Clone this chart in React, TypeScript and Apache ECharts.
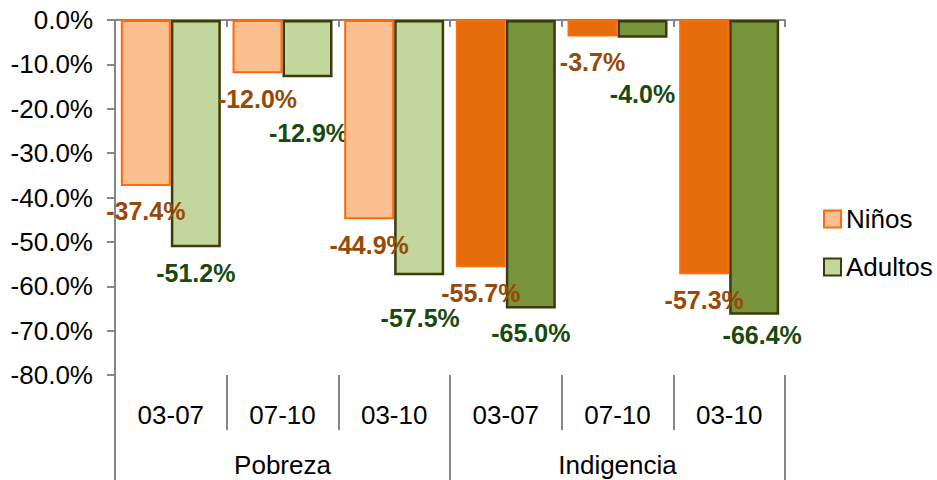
import React, { useEffect, useRef } from "react";
import * as echarts from "echarts";

const categories = ["03-07", "07-10", "03-10", "03-07", "07-10", "03-10"];
const groups = ["Pobreza", "Indigencia"];
const ninos = [-37.4, -12.0, -44.9, -55.7, -3.7, -57.3];
const adultos = [-51.2, -12.9, -57.5, -65.0, -4.0, -66.4];
const yTicks = { min: -80, max: 0, interval: 10 };

// label layout tweaks (as placed manually in the reference)
const adultosLabelOffsets = [[0, 0], [1, 30], [1, 17], [0, -1], [0, 31], [8, -5]];

const FONT = "'Liberation Sans', Arial, sans-serif";
const AXIS = "#868686";
const NINOS_LIGHT = "#FAC090";
const NINOS_DARK = "#E46C0A";
const NINOS_BORDER = "#FF6A0A";
const ADULT_LIGHT = "#C3D69B";
const ADULT_DARK = "#77933C";
const ADULT_BORDER = "#3B3B0B";
const NINOS_LABEL = "#984807";
const ADULT_LABEL = "#174A0C";

export default function App() {
  const ref = useRef<HTMLDivElement>(null);
  useEffect(() => {
    if (!ref.current) return;
    const chart = echarts.init(ref.current, undefined, { renderer: "svg" });
    const fmt = (v: number) => v.toFixed(1) + "%";
    chart.setOption({
      animation: false,
      textStyle: { fontFamily: FONT },
      grid: { left: 115, top: 20, width: 670, height: 355 },
      legend: {
        orient: "vertical",
        left: 823,
        top: 206,
        padding: 0,
        itemWidth: 17,
        itemHeight: 17,
        itemGap: 22,
        icon: "rect",
        textStyle: { fontFamily: FONT, fontSize: 26, color: "#000" },
        data: [
          { name: "Niños", itemStyle: { color: NINOS_LIGHT, borderColor: NINOS_BORDER, borderWidth: 2 } },
          { name: "Adultos", itemStyle: { color: ADULT_LIGHT, borderColor: ADULT_BORDER, borderWidth: 2 } },
        ],
      },
      xAxis: [
        {
          type: "category",
          data: categories,
          position: "bottom",
          axisLine: { show: false, onZero: false },
          axisTick: { show: true, interval: 0, length: 55, lineStyle: { color: AXIS, width: 2 } },
          axisLabel: { interval: 0, margin: 27, fontSize: 26, color: "#000", fontFamily: FONT },
          splitLine: { show: false },
        },
        {
          type: "category",
          data: groups,
          position: "bottom",
          axisLine: { show: false, onZero: false },
          axisTick: { show: true, interval: 0, length: 105, lineStyle: { color: AXIS, width: 2 } },
          axisLabel: { interval: 0, margin: 77, fontSize: 26, color: "#000", fontFamily: FONT },
          splitLine: { show: false },
        },
        {
          type: "category",
          data: categories,
          position: "top",
          axisLine: { show: true, onZero: false, lineStyle: { color: AXIS, width: 2 } },
          axisTick: { show: true, inside: true, interval: 0, length: 7, lineStyle: { color: AXIS, width: 2 } },
          axisLabel: { show: false },
          splitLine: { show: false },
        },
      ],
      yAxis: {
        type: "value",
        min: yTicks.min,
        max: yTicks.max,
        interval: yTicks.interval,
        axisLine: { show: true, lineStyle: { color: AXIS, width: 2 } },
        axisTick: { show: true, length: 8, lineStyle: { color: AXIS, width: 2 } },
        axisLabel: { fontSize: 26, color: "#000", margin: 22, fontFamily: FONT, formatter: fmt },
        splitLine: { show: false },
      },
      series: [
        {
          name: "Niños",
          type: "bar",
          xAxisIndex: 0,
          barWidth: 50,
          barGap: "0%",
          z: 3,
          itemStyle: { color: NINOS_LIGHT, borderColor: NINOS_BORDER, borderWidth: 2 },
          label: {
            show: true,
            position: "bottom",
            distance: 13,
            formatter: (p: any) => fmt(p.value),
            fontSize: 25,
            fontWeight: "bold",
            color: NINOS_LABEL,
            fontFamily: FONT,
          },
          data: ninos.map((v, i) => ({
            value: v,
            itemStyle: i >= 3 ? { color: NINOS_DARK } : undefined,
          })),
        },
        {
          name: "Adultos",
          type: "bar",
          xAxisIndex: 0,
          barWidth: 50,
          barGap: "0%",
          z: 2,
          itemStyle: { color: ADULT_LIGHT, borderColor: ADULT_BORDER, borderWidth: 2.5 },
          label: {
            show: true,
            position: "bottom",
            distance: 13,
            formatter: (p: any) => fmt(p.value),
            fontSize: 25,
            fontWeight: "bold",
            color: ADULT_LABEL,
            fontFamily: FONT,
          },
          data: adultos.map((v, i) => ({
            value: v,
            itemStyle: i >= 3 ? { color: ADULT_DARK } : undefined,
            label: { offset: adultosLabelOffsets[i] },
          })),
        },
      ],
    });
    return () => chart.dispose();
  }, []);
  return (
    <div
      ref={ref}
      style={{ position: "fixed", left: 0, top: 0, width: 937, height: 480, background: "#fff" }}
    />
  );
}
